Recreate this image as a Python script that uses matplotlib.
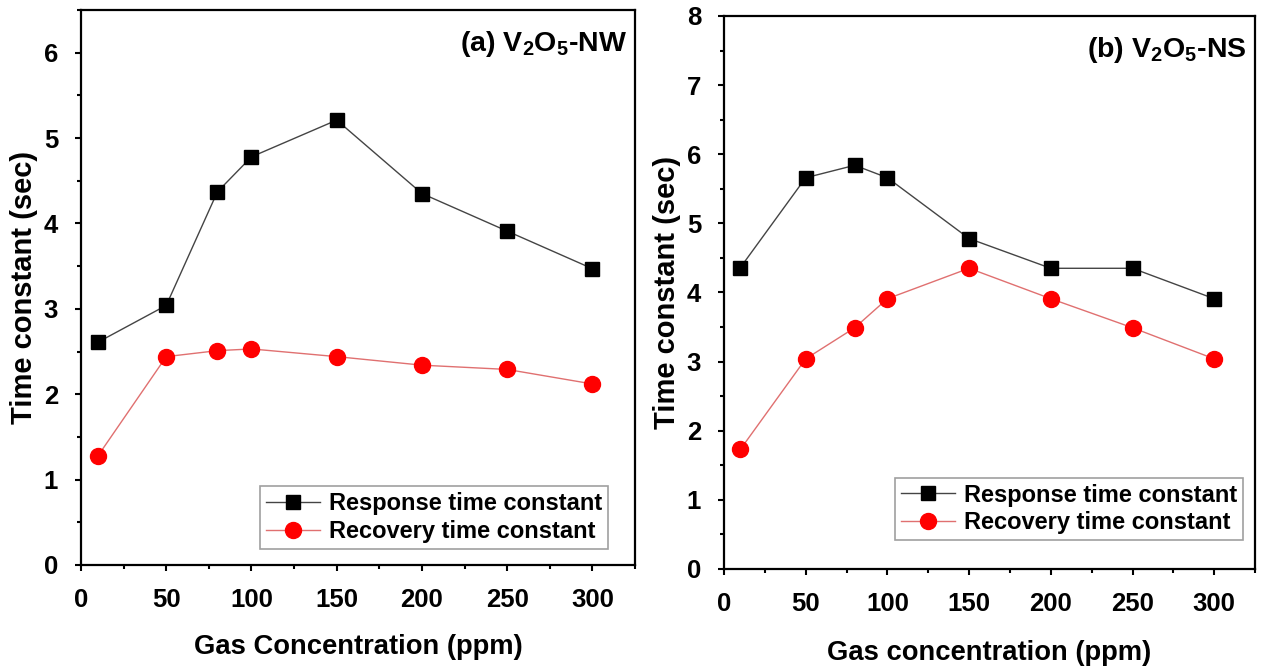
import matplotlib
matplotlib.use("Agg")
import matplotlib.pyplot as plt
from matplotlib.ticker import MultipleLocator

plt.rcParams['font.family'] = ['Liberation Sans', 'DejaVu Sans']
plt.rcParams['font.weight'] = 'bold'
plt.rcParams['mathtext.default'] = 'regular'

# gas concentration (ppm)
conc = [10, 50, 80, 100, 150, 200, 250, 300]

# (a) V2O5 nanowires
nw_response = [2.61, 3.04, 4.37, 4.78, 5.21, 4.35, 3.91, 3.47]
nw_recovery = [1.28, 2.44, 2.51, 2.53, 2.44, 2.34, 2.29, 2.12]

# (b) V2O5 nanosheets
ns_response = [4.36, 5.66, 5.84, 5.66, 4.78, 4.35, 4.35, 3.91]
ns_recovery = [1.73, 3.04, 3.49, 3.91, 4.35, 3.91, 3.49, 3.04]

fig = plt.figure(figsize=(12.62, 6.69), dpi=100)
ax1 = fig.add_axes([0.0642, 0.1555, 0.439, 0.8296])
ax2 = fig.add_axes([0.5737, 0.1495, 0.4208, 0.8266])


def draw_panel(ax, resp, reco, title, xlabel, ymax, legend_anchor, xlabelpad):
    ax.plot(conc, resp, color='#444444', lw=1.0, marker='s', ms=10.5,
            mfc='black', mec='black', label='Response time constant')
    ax.plot(conc, reco, color='#e07070', lw=1.0, marker='o', ms=11.5,
            mfc='#ff0000', mec='#ff0000', label='Recovery time constant')

    ax.set_xlim(0, 325)
    ax.set_ylim(0, ymax)
    ax.xaxis.set_major_locator(MultipleLocator(50))
    ax.xaxis.set_minor_locator(MultipleLocator(25))
    ax.yaxis.set_major_locator(MultipleLocator(1))
    ax.yaxis.set_minor_locator(MultipleLocator(0.5))
    ax.tick_params(which='major', direction='out', length=4.5, width=1.5,
                   labelsize=18.5, pad=12)
    ax.tick_params(which='minor', direction='out', length=3, width=1.5)
    for lab in ax.get_xticklabels() + ax.get_yticklabels():
        lab.set_fontweight('bold')
    for sp in ax.spines.values():
        sp.set_linewidth(1.6)

    ax.set_xlabel(xlabel, fontsize=19.7, fontweight='bold', labelpad=xlabelpad)
    ax.set_ylabel('Time constant (sec)', fontsize=21, fontweight='bold',
                  labelpad=4)
    ax.text(0.985, 0.965, title, transform=ax.transAxes, ha='right', va='top',
            fontsize=20.5, fontweight='bold')

    leg = ax.legend(loc='lower right', bbox_to_anchor=legend_anchor,
                    fontsize=17, frameon=True, fancybox=False,
                    handlelength=2.3, handletextpad=0.35, borderpad=0.25,
                    labelspacing=0.2, borderaxespad=0)
    leg.get_frame().set_edgecolor('#888888')
    leg.get_frame().set_linewidth(1.2)
    for t in leg.get_texts():
        t.set_fontweight('bold')


draw_panel(ax1, nw_response, nw_recovery, r'(a) V$_2$O$_5$-NW',
           'Gas Concentration (ppm)', 6.5, (0.951, 0.029), 16)
draw_panel(ax2, ns_response, ns_recovery, r'(b) V$_2$O$_5$-NS',
           'Gas concentration (ppm)', 8, (0.977, 0.052), 17.5)

fig.savefig('out.png', dpi=100)
